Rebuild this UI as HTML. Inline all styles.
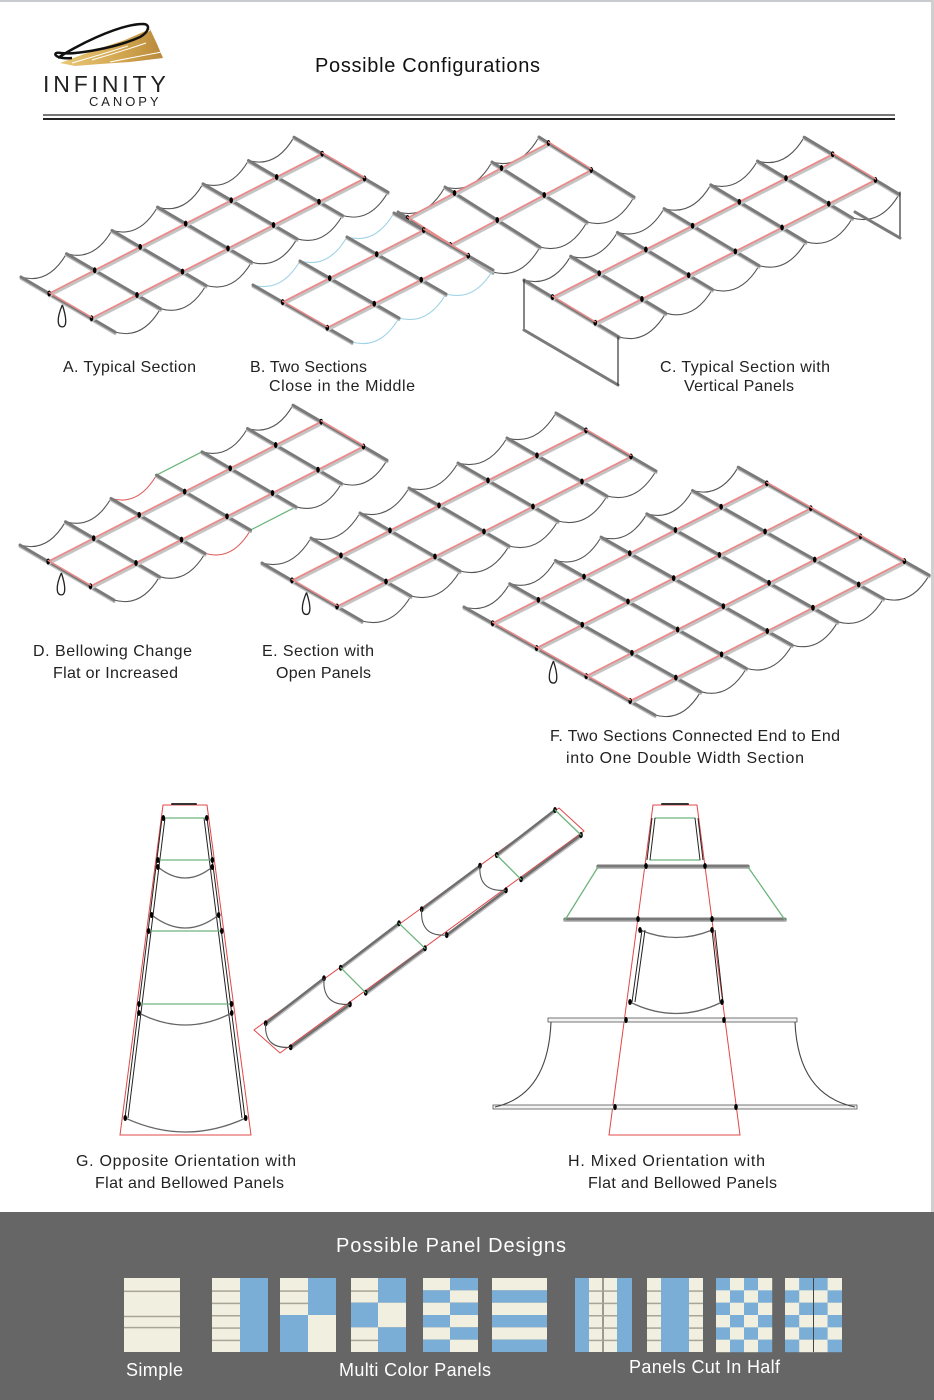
<!DOCTYPE html>
<html><head><meta charset="utf-8">
<style>
html,body{margin:0;padding:0;background:#fff;}
body{width:934px;height:1400px;position:relative;overflow:hidden;font-family:"Liberation Sans",sans-serif;}
svg{position:absolute;left:0;top:0;}
.lbl{font-family:"Liberation Sans",sans-serif;font-size:16px;fill:#222;}
</style></head>
<body>
<svg id="s" width="934" height="1400" viewBox="0 0 934 1400" xmlns="http://www.w3.org/2000/svg">
<defs>
<linearGradient id="gold" x1="0" y1="0" x2="1" y2="0">
<stop offset="0" stop-color="#e8c978"/><stop offset="0.6" stop-color="#d2a650"/><stop offset="1" stop-color="#b8893a"/>
</linearGradient>
</defs>
<rect x="0" y="0" width="934" height="2" fill="#c8ccd0"/>
<rect x="931" y="0" width="3" height="1212" fill="#cfcfcf"/>
<!-- logo -->
<path d="M60,63 L95,50 L125,40 L150,29 L157,44 L163,58 L130,62 L100,64 L75,66 Z" fill="url(#gold)"/>
<path d="M72,63 Q100,55 128,46 M92,60 Q120,52 146,43 M110,62 Q140,56 162,52 M120,44 Q135,40 150,30" stroke="#fff" stroke-width="1" fill="none"/>
<path d="M58,58 C72,48 118,24 143,24 C151,24 149,32 140,37 C116,48 74,55 61,53 C51,51 54,60 72,58" stroke="#111" stroke-width="2.5" fill="none"/>
<text x="43" y="92" font-size="23" letter-spacing="2.2" fill="#222" textLength="125">INFINITY</text>
<text x="89" y="106" font-size="13" letter-spacing="1.5" fill="#222" textLength="71">CANOPY</text>
<text x="315" y="72" font-size="20" fill="#111" textLength="225">Possible Configurations</text>
<rect x="43" y="114" width="852" height="2" fill="#777"/>
<rect x="43" y="118" width="852" height="2" fill="#222"/>

<!-- labels -->
<text class="lbl" x="63" y="372" textLength="133">A. Typical Section</text>
<text class="lbl" x="250" y="372" textLength="117">B. Two Sections</text>
<text class="lbl" x="269" y="391" textLength="146">Close in the Middle</text>
<text class="lbl" x="660" y="372" textLength="170">C. Typical Section with</text>
<text class="lbl" x="684" y="391" textLength="110">Vertical Panels</text>
<text class="lbl" x="33" y="656" textLength="159">D. Bellowing Change</text>
<text class="lbl" x="53" y="678" textLength="125">Flat or Increased</text>
<text class="lbl" x="262" y="656" textLength="112">E. Section with</text>
<text class="lbl" x="276" y="678" textLength="95">Open Panels</text>
<text class="lbl" x="550" y="741" textLength="290">F. Two Sections Connected End to End</text>
<text class="lbl" x="566" y="763" textLength="238">into One Double Width Section</text>
<text class="lbl" x="76" y="1166" textLength="220">G. Opposite Orientation with</text>
<text class="lbl" x="95" y="1188" textLength="189">Flat and Bellowed Panels</text>
<text class="lbl" x="568" y="1166" textLength="197">H. Mixed Orientation with</text>
<text class="lbl" x="588" y="1188" textLength="189">Flat and Bellowed Panels</text>

<!-- bottom band -->
<rect x="0" y="1212" width="934" height="188" fill="#666"/>
<text x="336" y="1252" font-size="20" fill="#fff" textLength="230">Possible Panel Designs</text>
<text x="126" y="1376" font-size="18" fill="#fff" textLength="57">Simple</text>
<text x="339" y="1376" font-size="18" fill="#fff" textLength="152">Multi Color Panels</text>
<text x="629" y="1373" font-size="18" fill="#fff" textLength="151">Panels Cut In Half</text>
<g id="panels"></g>
<g id="draw"></g>
</svg>
<script>
var NS="http://www.w3.org/2000/svg",G=document.getElementById("draw");
function el(t,a,p){var e=document.createElementNS(NS,t);for(var k in a)e.setAttribute(k,a[k]);(p||G).appendChild(e);return e;}
function L(x1,y1,x2,y2,c,w){return el("line",{x1:x1,y1:y1,x2:x2,y2:y2,stroke:c,"stroke-width":w||1,"stroke-linecap":"round"});}
function P(d,c,w,f){return el("path",{d:d,stroke:c,"stroke-width":w||1.1,fill:f||"none"});}
function dot(x,y){el("ellipse",{cx:x,cy:y,rx:1.8,ry:3,fill:"#000"});}
function arc(a,b,c){var cx=a[0]+0.6*(b[0]-a[0]),cy=Math.max(a[1],b[1])+8;P("M"+a[0]+","+a[1]+" Q"+cx+","+cy+" "+b[0]+","+b[1],c||"#555",1.1);}
function loop(x,y){P("M"+x+","+y+" C"+(x-6)+","+(y+14)+" "+(x-5)+","+(y+22)+" "+x+","+(y+22)+" C"+(x+5)+","+(y+22)+" "+(x+4)+","+(y+12)+" "+x+","+y,"#222",1.3);}
function canopy(c){
 var p=[],q=[];
 for(var i=0;i<c.n;i++){p.push([c.o[0]+i*c.s[0],c.o[1]+i*c.s[1]]);q.push([p[i][0]+c.b[0],p[i][1]+c.b[1]]);}
 for(i=0;i<c.n-1;i++){
  var lc=(c.lc&&c.lc[i])||c.ac||"#555", rc=(c.rc&&c.rc[i])||c.ac||"#555";
  if(lc=="G")L(p[i][0],p[i][1],p[i+1][0],p[i+1][1],"#6db57d",1.3);else if(lc!="N")arc(p[i],p[i+1],lc);
  if(rc=="G")L(q[i][0],q[i][1],q[i+1][0],q[i+1][1],"#6db57d",1.3);else if(rc!="N")arc(q[i],q[i+1],rc);
 }
 for(i=0;i<c.n;i++){L(p[i][0],p[i][1]+1.5,q[i][0],q[i][1]+1.5,"#bbb",3);L(p[i][0],p[i][1],q[i][0],q[i][1],"#7a7a7a",3);}
 c.r.forEach(function(f){
  var a=[p[0][0]+f*c.b[0],p[0][1]+f*c.b[1]],z=[p[c.n-1][0]+f*c.b[0],p[c.n-1][1]+f*c.b[1]];
  L(a[0],a[1]+2,z[0],z[1]+2,"#c4c4c4",3.5);L(a[0],a[1],z[0],z[1],"#ec8a8a",1.8);
  for(var j=0;j<c.n;j++)dot(p[j][0]+f*c.b[0],p[j][1]+f*c.b[1]);
 });
 var f0=c.r[0],f1=c.r[c.r.length-1];
 [0,c.n-1].forEach(function(j){L(p[j][0]+f0*c.b[0],p[j][1]+f0*c.b[1]-1,p[j][0]+f1*c.b[0],p[j][1]+f1*c.b[1]-1,"#ec8a8a",1.5);});
 if(c.loop){var lp=[p[0][0]+0.5*(f0+f1)*c.b[0]-12,p[0][1]+0.5*(f0+f1)*c.b[1]-5];loop(lp[0]+4,lp[1]+4);}
 return {p:p,q:q};
}
// A
canopy({o:[21,277],s:[45.5,-23.3],n:7,b:[94,55],r:[0.3,0.75],loop:1});
// B
canopy({o:[398,212],s:[47,-25],n:4,b:[95,60],r:[0.1,0.55]});
canopy({o:[253,285],s:[47,-24],n:4,b:[99,57],r:[0.3,0.75],ac:"#9fd3e6"});
// C
var c=canopy({o:[524,280],s:[46.7,-23.8],n:7,b:[95,57],r:[0.3,0.75]});
L(524,280,524,330,"#222",1.1);L(524,330,618,385,"#7a7a7a",3);L(618,337,618,385,"#222",1.1);
L(900,192,900,238,"#222",1.1);L(855,212,900,238,"#7a7a7a",3);
// D
canopy({o:[20,545],s:[45.5,-23.3],n:7,b:[94,55],r:[0.3,0.75],loop:1,lc:[0,0,"#e06060","G"],rc:[0,0,"#e06060","G"]});
// E
canopy({o:[262,563],s:[49,-25],n:7,b:[100,58],r:[0.3,0.75],loop:1});
// F
canopy({o:[464,607],s:[45.7,-23.3],n:7,b:[191,108],r:[0.15,0.38,0.64,0.87],loop:1});

// G tapered
var g=G;
P("M163,805 L207,805 L251,1135 L120,1135 Z","#e04848",1);
L(172,804,196,804,"#333",2);
P("M162,818 L125,1118 M165,818 L128,1118","#222",1);
P("M207,818 L245,1118 M204,818 L242,1118","#222",1);
[[818,"G"],[860,"G"],[931,"G"],[1004,"G"]].forEach(function(a){var y=a[0],t=(y-805)/330,x1=163-43*t+2,x2=207+44*t-2;L(x1,y,x2,y,"#6db57d",1.3);dot(x1,y);dot(x2,y);});
[[867,878],[915,928],[1013,1025],[1118,1132]].forEach(function(a){var y=a[0],t=(y-805)/330,x1=163-43*t+3,x2=207+44*t-3;P("M"+x1+","+y+" Q"+((x1+x2)/2)+","+(2*a[1]-y)+" "+x2+","+y,"#666",1.3);dot(x1,y);dot(x2,y);});
// diagonal
P("M254,1030 L280,1053 L584,831 L559,808 Z","#e04848",1);
[[265.7,1023.3,324,978.3],[340.7,967.7,399,923.3],[421.7,909.3,480,865.7],[496.7,855,555,810],
 [290.7,1047.3,350,1004.3],[365.7,992.7,425,948.3],[446.7,935,506,890.3],[521,879.3,581,835]].forEach(function(a){L(a[0],a[1]+1.5,a[2],a[3]+1.5,"#bbb",3);L(a[0],a[1],a[2],a[3],"#6f6f6f",2.5);dot(a[0],a[1]);dot(a[2],a[3]);});
[[340.7,967.7,365.7,992.7],[399,923.3,425,948.3],[496.7,855,521,879.3],[555,810,581,835]].forEach(function(a){L(a[0],a[1],a[2],a[3],"#6db57d",1.3);});
[[265.7,1023.3,290.7,1047.3],[324,978.3,350,1004.3],[421.7,909.3,446.7,935],[480,865.7,506,890.3]].forEach(function(a){P("M"+a[0]+","+a[1]+" Q"+(a[0]-2)+","+(a[3]+2)+" "+a[2]+","+a[3],"#555",1.1);});

// H
P("M653,805 L697,805 L740,1135 L609,1135 Z","#e04848",1);
L(662,804,688,804,"#333",2);
L(655,818,695,818,"#6db57d",1.3);L(650,860,700,860,"#6db57d",1.3);
P("M652,818 L647,860 M655,818 L650,860 M695,818 L700,860 M698,818 L703,860","#222",1);
L(598,867,748,867,"#bbb",4);L(598,866,748,866,"#7a7a7a",3);
L(565,920,785,920,"#bbb",4);L(565,919,785,919,"#7a7a7a",3);
L(598,867,565,920,"#6db57d",1.3);L(748,867,785,920,"#6db57d",1.3);
P("M640,930 Q676,945 712,930 M630,1002 Q676,1025 722,1002","#666",1.3);
P("M642,930 L632,1002 M645,930 L635,1002 M712,930 L720,1002 M715,930 L723,1002","#222",1);
[[646,866],[705,866],[638,919],[712,919],[626,1020],[724,1020],[615,1107],[736,1107],[640,930],[712,930],[630,1002],[722,1002]].forEach(function(a){dot(a[0],a[1]);});
el("rect",{x:548,y:1018,width:249,height:4,fill:"#f4f4f4",stroke:"#555","stroke-width":0.8});
el("rect",{x:493,y:1105,width:364,height:4,fill:"#f4f4f4",stroke:"#555","stroke-width":0.8});
P("M551,1022 Q548,1095 495,1107 M795,1022 Q798,1095 855,1107","#444",1.1);
dot(626,1020);dot(724,1020);dot(615,1107);dot(736,1107);

// panels
var PG=document.getElementById("panels"),CR="#f1efe0",BL="#7aaed6";
function R(x,y,w,h,f){el("rect",{x:x,y:y,width:w,height:h,fill:f},PG);}
function HL(x,y,w){el("rect",{x:x,y:y,width:w,height:1.5,fill:"#a8a496"},PG);}
var Y=1278,H=74;
// simple
R(124,Y,56,H,CR);[0.17,0.51,0.66].forEach(function(t){HL(124,Y+t*H,56);});
// 2
R(212,Y,28,H,CR);R(240,Y,28,H,BL);for(var i=1;i<6;i++)HL(212,Y+i*H/6,28);
// 3
R(280,Y,28,H/2,CR);R(308,Y,28,H/2,BL);R(280,Y+H/2,28,H/2,BL);R(308,Y+H/2,28,H/2,CR);HL(280,Y+H/6,28);HL(280,Y+H/3,28);
// 4
R(351,Y,27,H/3,CR);R(378,Y,28,H/3,BL);R(351,Y+H/3,27,H/3,BL);R(378,Y+H/3,28,H/3,CR);R(351,Y+2*H/3,27,H/3,CR);R(378,Y+2*H/3,28,H/3,BL);HL(351,Y+H/6,27);HL(351,Y+5*H/6,27);
// 5
for(i=0;i<6;i++){R(423,Y+i*H/6,27,H/6,i%2?BL:CR);R(450,Y+i*H/6,28,H/6,i%2?CR:BL);}
// 6
for(i=0;i<6;i++){R(492,Y+i*H/6,55,H/6,i%2?BL:CR);}
// cut in half
R(575,Y,14,H,BL);R(589,Y,14,H,CR);R(603,Y,14,H,CR);R(617,Y,15,H,BL);el("rect",{x:602.5,y:Y,width:1,height:H,fill:"#444"},PG);
for(i=1;i<6;i++){HL(589,Y+i*H/6,28);}
R(647,Y,14,H,CR);R(661,Y,28,H,BL);R(689,Y,14,H,CR);for(i=1;i<6;i++){HL(647,Y+i*H/6,14);HL(689,Y+i*H/6,14);}
for(i=0;i<6;i++)for(var j=0;j<4;j++){R(716+j*14,Y+i*H/6,14.2,H/6+0.2,(i+j)%2?CR:BL);}
for(i=0;i<6;i++)for(j=0;j<4;j++){R(785+j*14.2,Y+i*H/6,14.4,H/6+0.2,(i+j+(j>1?1:0))%2?BL:CR);}
el("rect",{x:813,y:Y,width:1,height:H,fill:"#444"},PG);
</script>
</body></html>
